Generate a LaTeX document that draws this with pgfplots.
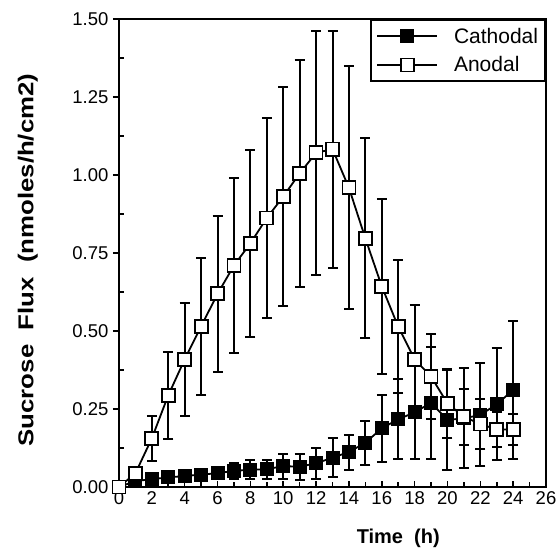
\documentclass[border=0pt]{standalone}
\usepackage{fontspec}
\setmainfont{Liberation Sans}
\newfontfamily\ylfont{Liberation Sans}[FakeStretch=1.2]
\usepackage{pgfplots}
\pgfplotsset{compat=1.18}
\pgfplotstableread{
x y e
0 0.000 0
1 0.044 0.02
2 0.156 0.072
3 0.294 0.14
4 0.409 0.18
5 0.515 0.22
6 0.619 0.25
7 0.710 0.28
8 0.781 0.30
9 0.862 0.32
10 0.931 0.35
11 1.005 0.365
12 1.071 0.39
13 1.083 0.38
14 0.959 0.39
15 0.797 0.32
16 0.643 0.28
17 0.514 0.214
18 0.409 0.174
19 0.354 0.135
20 0.268 0.11
21 0.225 0.09
22 0.202 0.08
23 0.184 0.055
24 0.184 0.05
}\anodal
\pgfplotstableread{
x y e
0 0.000 0
1 0.019 0.01
2 0.025 0.01
3 0.031 0.012
4 0.035 0.012
5 0.040 0.015
6 0.044 0.018
7 0.052 0.025
8 0.055 0.03
9 0.057 0.03
10 0.067 0.04
11 0.065 0.042
12 0.076 0.05
13 0.094 0.062
14 0.112 0.056
15 0.142 0.07
16 0.188 0.108
17 0.217 0.128
18 0.239 0.15
19 0.270 0.18
20 0.215 0.16
21 0.220 0.16
22 0.231 0.165
23 0.265 0.18
24 0.311 0.22
}\cathodal
\begin{document}
\begin{tikzpicture}
\begin{axis}[
  name=ax,
  width=427pt, height=468pt, scale only axis,
  xmin=0, xmax=26, ymin=0, ymax=1.5,
  clip=false,
  axis line style={line width=2pt},
  xtick={0,2,...,26}, minor xtick={1,3,...,25},
  ytick={0,0.25,0.5,0.75,1,1.25,1.5},
  yticklabels={0.00,0.25,0.50,0.75,1.00,1.25,1.50},
  minor ytick={0.125,0.375,0.625,0.875,1.125,1.375},
  xtick pos=lower, ytick pos=left,
  tick align=inside,
  major tick length=6pt, minor tick length=5pt,
  every tick/.append style={line width=1.6pt, black},
  every major y tick/.append style={xshift=-6pt},
  /pgf/number format/assume math mode=true,
  xticklabel style={font=\fontsize{18.5}{21}\selectfont, yshift=-1pt},
  yticklabel style={font=\fontsize{18.5}{21}\selectfont, xshift=-7pt},
  xlabel={Time\ \ (h)},
  xlabel style={font=\bfseries\fontsize{20}{23}\selectfont, at={(axis description cs:0.654,0)}, anchor=north, yshift=-38pt},
  ylabel={Sucrose\ \ Flux\ \ (nmoles/h/cm2)},
  ylabel style={font=\ylfont\bfseries\fontsize{21.5}{25}\selectfont, at={(axis description cs:-0.182,0.485)}, anchor=south},
  legend style={at={(rel axis cs:1,1)}, anchor=north east, draw=black, line width=1.8pt,
    font=\fontsize{21}{24}\selectfont, inner xsep=5pt, inner ysep=6pt, row sep=8pt,
    nodes={inner ysep=2pt},
    /tikz/every odd column/.append style={column sep=14pt}},
  legend cell align=left,
  legend image code/.code={\draw[mark repeat=2,mark phase=2,#1] plot coordinates {(0pt,0pt) (30pt,0pt) (60pt,0pt)};},
  error bars/y dir=both, error bars/y explicit,
  error bars/error bar style={line width=2pt, black},
  error bars/error mark options={rotate=90, mark size=5pt, line width=2pt, black},
]
\addplot[black, line width=1.8pt, mark=square*, mark size=6.5pt, mark options={fill=black, line width=1pt}]
  table[x=x, y=y, y error=e] {\cathodal};
\addlegendentry{Cathodal}
\addplot[black, line width=1.8pt, mark=square*, mark size=6.5pt, mark options={fill=white, line width=1.8pt}]
  table[x=x, y=y, y error=e] {\anodal};
\addlegendentry{Anodal}
\end{axis}
\pgfresetboundingbox
\path ([xshift=-119pt,yshift=-69pt]ax.south west) rectangle ([xshift=12pt,yshift=19pt]ax.north east);
\end{tikzpicture}
\end{document}
